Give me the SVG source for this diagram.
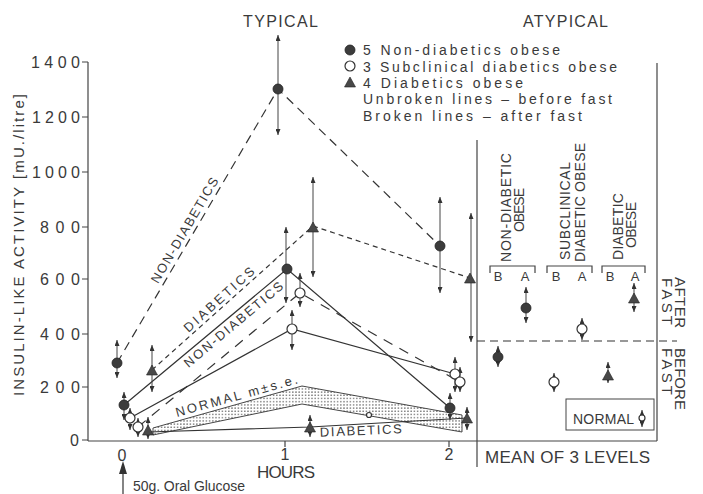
<svg xmlns="http://www.w3.org/2000/svg" width="703" height="494" viewBox="0 0 703 494">
<defs>
<style>
text{font-family:"Liberation Sans","DejaVu Sans",sans-serif;fill:#3a3a3a}
.ax{stroke:#444;stroke-width:1.2;fill:none}
.ln{stroke:#333;stroke-width:1.2;fill:none}
.d1{stroke-dasharray:9 6}
.d2{stroke-dasharray:5 4}
.d3{stroke-dasharray:10 8}
.eb{stroke:#444;stroke-width:1;marker-start:url(#ah);marker-end:url(#ah)}
.fc{fill:#3c3c3c;stroke:#222;stroke-width:0.8}
.oc{fill:#fff;stroke:#333;stroke-width:1.2}
.tr{fill:#484848;stroke:#222;stroke-width:0.6}
.lg{font-size:14px}
.tk{font-size:16px}
.lb{font-size:13px}
.vl{font-size:14px}
</style>
<marker id="ah" viewBox="0 0 6 5" refX="6" refY="2.5" markerWidth="6" markerHeight="5" markerUnits="userSpaceOnUse" orient="auto-start-reverse"><path d="M0,0 L6,2.5 L0,5 z" fill="#333"/></marker>
<pattern id="dots" width="3.2" height="3.2" patternUnits="userSpaceOnUse"><circle cx="1.6" cy="1.6" r="0.7" fill="#444"/></pattern>
<circle id="cir" r="5"/>
<path id="tri" d="M0,-6 L5.5,4 L-5.5,4 z"/>
</defs>
<rect width="703" height="494" fill="#fff"/>

<g id="titles">
<text x="243" y="27" font-size="16" textLength="75" lengthAdjust="spacing">TYPICAL</text>
<text x="523" y="27" font-size="16" textLength="85" lengthAdjust="spacing">ATYPICAL</text>
</g>

<g id="legend">
<use href="#cir" x="350" y="50" class="fc"/>
<use href="#cir" x="350" y="66" class="oc"/>
<use href="#tri" x="350" y="83" class="tr"/>
<text class="lg" x="363" y="55" textLength="197" lengthAdjust="spacing">5 Non-diabetics obese</text>
<text class="lg" x="363" y="72" textLength="254" lengthAdjust="spacing">3 Subclinical diabetics obese</text>
<text class="lg" x="363" y="88" textLength="160" lengthAdjust="spacing">4 Diabetics obese</text>
<text class="lg" x="363" y="104" textLength="249" lengthAdjust="spacing">Unbroken lines – before fast</text>
<text class="lg" x="363" y="121" textLength="219" lengthAdjust="spacing">Broken lines – after fast</text>
</g>

<g id="axes">
<line class="ax" x1="88" y1="62" x2="88" y2="441"/>
<line class="ax" x1="88" y1="441" x2="657" y2="441"/>
<line class="ax" x1="477" y1="140" x2="477" y2="467"/>
<line class="ax" x1="657" y1="63" x2="657" y2="441"/>
<path class="ax" d="M82,62H88M82,117H88M82,172H88M82,227H88M82,279H88M82,334H88M82,387H88M82,440H88M285,441V447M449,441V447"/>
<text transform="translate(24,245) rotate(-90)" text-anchor="middle" font-size="15" textLength="302" lengthAdjust="spacing">INSULIN-LIKE ACTIVITY [mU./litre]</text>
<g class="tk" text-anchor="end">
<text x="80" y="68" textLength="49" lengthAdjust="spacing">1400</text>
<text x="80" y="123" textLength="48" lengthAdjust="spacing">1200</text>
<text x="80" y="178" textLength="48" lengthAdjust="spacing">1000</text>
<text x="80" y="233" textLength="40" lengthAdjust="spacing">800</text>
<text x="80" y="285" textLength="40" lengthAdjust="spacing">600</text>
<text x="80" y="340" textLength="40" lengthAdjust="spacing">400</text>
<text x="80" y="393" textLength="40" lengthAdjust="spacing">200</text>
<text x="79" y="446">0</text>
</g>
<g class="tk" text-anchor="middle">
<text x="122" y="461">0</text>
<text x="285" y="460">1</text>
<text x="449" y="460">2</text>
</g>
<text x="257" y="478" font-size="17" textLength="58" lengthAdjust="spacing">HOURS</text>
<text x="485" y="463" font-size="17" textLength="165" lengthAdjust="spacing">MEAN OF 3 LEVELS</text>
<line x1="123" y1="494" x2="123" y2="470" stroke="#333" stroke-width="1.2"/>
<path d="M123,461 L127,474 L119,474 z" fill="#333"/>
<text x="133" y="491" font-size="14" textLength="112" lengthAdjust="spacing">50g. Oral Glucose</text>
</g>

<g id="band">
<path d="M153,428 L302,386 L462,415 L462,432 L302,404 L153,435 z" fill="url(#dots)" stroke="#333" stroke-width="0.9"/>
<circle cx="369" cy="415" r="2.5" class="oc" stroke-width="0.8"/>
<text transform="translate(177,417) rotate(-15.5)" class="lb" textLength="126" lengthAdjust="spacing">NORMAL m±s.e.</text>
</g>

<g id="connectors">
<polyline class="ln d1" points="117,363 278,89 440,246"/>
<polyline class="ln d2" points="152,370 313,226 470,278"/>
<polyline class="ln" points="124,405 287,269 450,408"/>
<polyline class="ln" points="130,418 292,329 455,374"/>
<polyline class="ln d3" points="138,427 300,293 460,382"/>
<polyline class="ln" points="148,432 310,427 467,418"/>
</g>

<g id="line-labels" class="lb" text-anchor="middle">
<text transform="translate(191,234) rotate(-59.6)" y="-3" textLength="120" lengthAdjust="spacing">NON-DIABETICS</text>
<text transform="translate(224,305) rotate(-42)" y="-3" textLength="90" lengthAdjust="spacing">DIABETICS</text>
<text transform="translate(228,318) rotate(-40)" y="13" textLength="125" lengthAdjust="spacing">NON-DIABETICS</text>
<text transform="translate(361,435) rotate(-2.5)" textLength="82" lengthAdjust="spacing">DIABETICS</text>
</g>

<g id="errorbars">
<line class="eb" x1="117" y1="340" x2="117" y2="378"/>
<line class="eb" x1="278" y1="35" x2="278" y2="135"/>
<line class="eb" x1="440" y1="197" x2="440" y2="293"/>
<line class="eb" x1="152" y1="345" x2="152" y2="392"/>
<line class="eb" x1="313" y1="177" x2="313" y2="277"/>
<line class="eb" x1="471" y1="213" x2="471" y2="342"/>
<line class="eb" x1="124" y1="392" x2="124" y2="420"/>
<line class="eb" x1="286" y1="227" x2="286" y2="303"/>
<line class="eb" x1="450" y1="393" x2="450" y2="420"/>
<line class="eb" x1="130" y1="408" x2="130" y2="430"/>
<line class="eb" x1="292" y1="310" x2="292" y2="350"/>
<line class="eb" x1="455" y1="357" x2="455" y2="392"/>
<line class="eb" x1="138" y1="418" x2="138" y2="437"/>
<line class="eb" x1="300" y1="273" x2="300" y2="307"/>
<line class="eb" x1="460" y1="367" x2="460" y2="392"/>
<line class="eb" x1="148" y1="417" x2="148" y2="439"/>
<line class="eb" x1="310" y1="415" x2="310" y2="437"/>
<line class="eb" x1="467" y1="407" x2="467" y2="430"/>
</g>

<g id="points">
<use href="#cir" x="117" y="363" class="fc"/>
<use href="#cir" x="278" y="89" class="fc"/>
<use href="#cir" x="440" y="246" class="fc"/>
<use href="#tri" x="152" y="371" class="tr"/>
<use href="#tri" x="313" y="228" class="tr"/>
<use href="#tri" x="470" y="279" class="tr"/>
<use href="#cir" x="124" y="405" class="fc"/>
<use href="#cir" x="287" y="269" class="fc"/>
<use href="#cir" x="450" y="408" class="fc"/>
<use href="#cir" x="130" y="418" class="oc"/>
<use href="#cir" x="292" y="329" class="oc"/>
<use href="#cir" x="455" y="374" class="oc"/>
<use href="#cir" x="138" y="427" class="oc"/>
<use href="#cir" x="300" y="293" class="oc"/>
<use href="#cir" x="460" y="382" class="oc"/>
<use href="#tri" x="148" y="431" class="tr"/>
<use href="#tri" x="310" y="428" class="tr"/>
<use href="#tri" x="467" y="419" class="tr"/>
</g>

<g id="atypical">
<line x1="477" y1="341" x2="677" y2="341" stroke="#333" stroke-width="1.2" stroke-dasharray="8 5"/>
<g class="vl">
<text transform="translate(511,207.5) rotate(-90)" text-anchor="middle" textLength="109" lengthAdjust="spacing">NON-DIABETIC</text>
<text transform="translate(524,210) rotate(-90)" text-anchor="middle" textLength="44" lengthAdjust="spacing">OBESE</text>
<text transform="translate(570,211) rotate(-90)" text-anchor="middle" textLength="98" lengthAdjust="spacing">SUBCLINICAL</text>
<text transform="translate(585,202.5) rotate(-90)" text-anchor="middle" textLength="119" lengthAdjust="spacing">DIABETIC OBESE</text>
<text transform="translate(623,226.5) rotate(-90)" text-anchor="middle" textLength="67" lengthAdjust="spacing">DIABETIC</text>
<text transform="translate(636,225) rotate(-90)" text-anchor="middle" textLength="46" lengthAdjust="spacing">OBESE</text>
</g>
<path class="ax" stroke-width="1" d="M490,273V266H535V273M547,273V266H592V273M602,273V266H645V273"/>
<g class="lb" text-anchor="middle">
<text x="498" y="281">B</text><text x="525" y="281">A</text>
<text x="556" y="281">B</text><text x="582" y="281">A</text>
<text x="610" y="281">B</text><text x="635" y="281">A</text>
</g>
<line class="eb" x1="526" y1="287" x2="526" y2="323"/>
<line class="eb" x1="582" y1="318" x2="582" y2="340"/>
<line class="eb" x1="634" y1="283" x2="634" y2="312"/>
<line class="eb" x1="498" y1="346" x2="498" y2="367"/>
<line class="eb" x1="554" y1="373" x2="554" y2="392"/>
<line class="eb" x1="608" y1="362" x2="608" y2="383"/>
<use href="#cir" x="526" y="308" class="fc"/>
<use href="#cir" x="582" y="329" class="oc"/>
<use href="#tri" x="634" y="299" class="tr"/>
<use href="#cir" x="498" y="357" class="fc"/>
<use href="#cir" x="554" y="382" class="oc"/>
<use href="#tri" x="608" y="376" class="tr"/>
<rect x="566" y="399" width="88" height="31" fill="none" stroke="#444" stroke-width="1"/>
<text x="573" y="424" font-size="14" textLength="61" lengthAdjust="spacing">NORMAL</text>
<line class="eb" x1="642" y1="410" x2="642" y2="427"/>
<circle cx="642" cy="418" r="3" class="oc" stroke-width="1"/>
<text transform="translate(675,277) rotate(90)" font-size="15" textLength="51" lengthAdjust="spacing">AFTER</text>
<text transform="translate(662,278) rotate(90)" font-size="15" textLength="47" lengthAdjust="spacing">FAST</text>
<text transform="translate(675,348) rotate(90)" font-size="15" textLength="62" lengthAdjust="spacing">BEFORE</text>
<text transform="translate(662,348) rotate(90)" font-size="15" textLength="47" lengthAdjust="spacing">FAST</text>
</g>
</svg>
